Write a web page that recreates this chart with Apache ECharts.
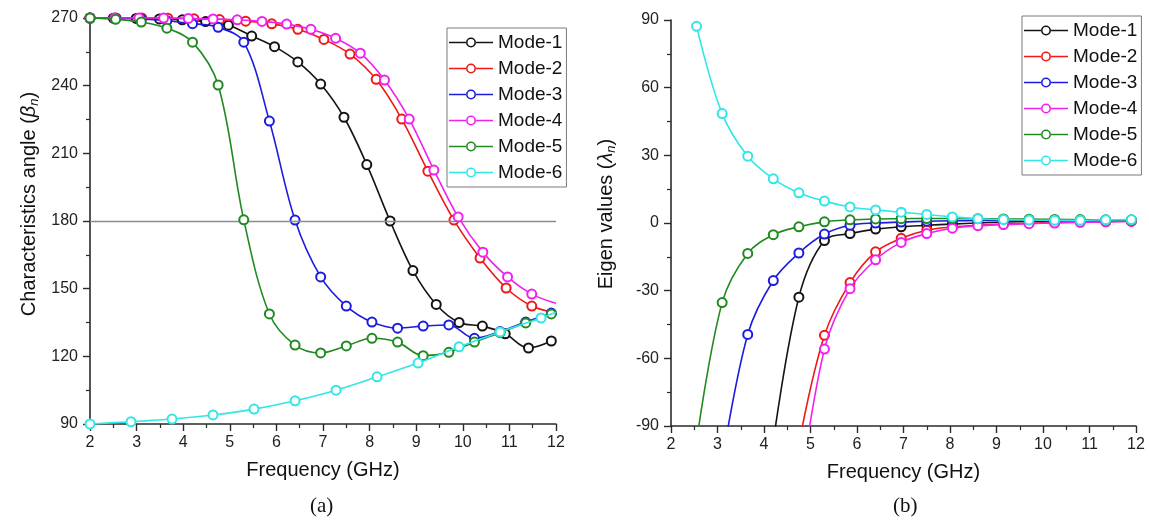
<!DOCTYPE html>
<html>
<head>
<meta charset="utf-8">
<script src="https://cdn.jsdelivr.net/npm/echarts@6/dist/echarts.min.js"></script>
<style>
html,body{margin:0;padding:0;background:#fff;}
#chart{width:1149px;height:529px;}
</style>
</head>
<body>
<div id="chart"></div>
<script>
// ---------- Data: (a) Characteristic angle ----------
var modeNames = ['Mode-1','Mode-2','Mode-3','Mode-4','Mode-5','Mode-6'];
var modeColors = ['#141414','#f01818','#1c1ce0','#f020f0','#208a20','#30e6e6'];

var freqA1 = [2,2.5,2.99,3.49,3.98,4.48,4.97,5.47,5.96,6.46,6.95,7.45,7.94,8.44,8.93,9.43,9.92,10.42,10.91,11.41,11.9];
var angleA1 = [270,269.9,269.8,269.6,269.2,268.4,266.8,262,257.3,250.5,240.7,226,205,180,158,143,135,133.4,130,123.7,126.8];

var freqA2 = [2,2.56,3.11,3.67,4.23,4.78,5.34,5.9,6.46,7.02,7.58,8.14,8.69,9.25,9.81,10.37,10.93,11.48,12];
var angleA2 = [270,270,270,269.9,269.7,269.3,268.6,267.4,265,260.5,254,242.8,225.2,202.1,180.4,163.6,150.3,142.3,139.3];

var freqA3 = [2,2.55,3.1,3.65,4.2,4.75,5.3,5.85,6.4,6.95,7.5,8.05,8.6,9.15,9.7,10.25,10.8,11.35,11.9];
var angleA3 = [270,269.9,269.6,268.8,267.5,265.9,259.3,224.3,180.4,155.2,142.3,135.2,132.5,133.4,133.9,128,131,135.2,139.2];

var freqA4 = [2,2.53,3.05,3.58,4.11,4.64,5.16,5.69,6.22,6.74,7.27,7.8,8.32,8.85,9.38,9.9,10.43,10.96,11.48,12];
var angleA4 = [270,270,270,270,269.8,269.6,269.2,268.5,267.3,265,261,254.4,242.5,225.2,202.6,181.8,166.2,155.2,147.6,143.5];

var freqA5 = [2,2.55,3.1,3.65,4.2,4.75,5.3,5.85,6.4,6.95,7.5,8.05,8.6,9.15,9.7,10.25,10.8,11.35,11.9];
var angleA5 = [270,269.4,268.2,265.5,259.3,240.3,180.5,138.8,125,121.5,124.6,128,126.3,120.3,121.8,126.3,130.5,134.8,138.8];

var freqA6 = [2,2.88,3.76,4.64,5.52,6.4,7.28,8.16,9.04,9.92,10.8,11.68,12];
var angleA6 = [90,91,92.2,94,96.6,100.3,105,110.9,117,124.2,130.8,137,139.5];

var refAngle = 180;

// ---------- Data: (b) Eigen values ----------
var freqB = [2.55,3.1,3.65,4.2,4.75,5.3,5.85,6.4,6.95,7.5,8.05,8.6,9.15,9.7,10.25,10.8,11.35,11.9];
var eigenB1 = [null,null,null,-97,-32.9,-7.8,-4.7,-2.7,-1.7,-1,-0.5,0,0.4,0.7,0.9,1.1,1.2,1.3];
var eigenB2 = [null,null,null,null,-98,-49.8,-26.4,-12.8,-6.8,-3.2,-1.8,-1,-0.5,-0.1,0.2,0.4,0.6,0.8];
var eigenB3 = [null,-106,-49.4,-25.5,-13.3,-4.9,-1,0,0.4,0.8,1,1.1,1.2,1.2,1.2,1.2,1.2,1.2];
var eigenB4 = [null,null,null,null,-122,-55.9,-29.1,-16.3,-8.6,-4.7,-2.3,-1.2,-0.7,-0.3,0,0.3,0.5,0.7];
var eigenB5 = [-97,-35.3,-13.5,-5.2,-1.7,0.5,1.4,1.8,1.9,2,2,1.9,1.8,1.7,1.6,1.5,1.4,1.3];
var eigenB6 = [87.2,48.5,29.6,19.6,13.4,9.7,7.1,5.8,4.8,3.8,2.7,1.9,1.5,1.3,1.2,1.2,1.4,1.5];

var xTicks = [2,3,4,5,6,7,8,9,10,11,12];

// ---------- Build ----------
// points at the right plot edge (x = 12) are curve ends without a marker
function zip(xs, ys){
  var out=[];
  for(var i=0;i<xs.length;i++){
    if (xs[i] === 12) out.push({value:[xs[i], ys[i]], symbol:'none'});
    else out.push([xs[i], ys[i]]);
  }
  return out;
}

var setsA = [zip(freqA1,angleA1),zip(freqA2,angleA2),zip(freqA3,angleA3),zip(freqA4,angleA4),zip(freqA5,angleA5),zip(freqA6,angleA6)];
var setsB = [zip(freqB,eigenB1),zip(freqB,eigenB2),zip(freqB,eigenB3),zip(freqB,eigenB4),zip(freqB,eigenB5),zip(freqB,eigenB6)];

var FONT = 'Liberation Sans, Arial, sans-serif';
var tickFont = {fontFamily:FONT, fontSize:16, color:'#222'};
var axisCol = '#2a2a2a';

function xAxis(gi){
  return {
    type:'value', gridIndex:gi, min:2, max:12, interval:1,
    name:'Frequency (GHz)', nameLocation:'middle', nameGap:36,
    nameTextStyle:{fontFamily:FONT, fontSize:20, color:'#111'},
    axisLine:{show:true, onZero:false, lineStyle:{color:axisCol, width:1.6}},
    axisTick:{show:true, inside:false, length:7, lineStyle:{color:axisCol, width:1.4}},
    minorTick:{show:true, splitNumber:2, length:4, lineStyle:{color:axisCol, width:1.2}},
    axisLabel:Object.assign({margin:11, formatter:function(v){ return xTicks.indexOf(v)>=0 ? String(v) : ''; }}, tickFont),
    splitLine:{show:false}
  };
}
function yAxis(gi, min, max, name, gap, shift){
  return {
    type:'value', gridIndex:gi, min:min, max:max, interval:30,
    name:name, nameLocation:'middle', nameGap:gap, nameRotate:90,
    nameTextStyle:{fontFamily:FONT, fontSize:20, color:'#111', lineHeight:24, padding:[0,0,0,shift],
      rich:{
        i:{fontFamily:FONT, fontSize:20, fontStyle:'italic', color:'#111', lineHeight:24},
        s:{fontFamily:FONT, fontSize:13, fontStyle:'italic', color:'#111', lineHeight:14, verticalAlign:'bottom'}
      }},
    axisLine:{show:true, onZero:false, lineStyle:{color:axisCol, width:1.6}},
    axisTick:{show:true, inside:false, length:7, lineStyle:{color:axisCol, width:1.4}},
    minorTick:{show:true, splitNumber:2, length:4, lineStyle:{color:axisCol, width:1.2}},
    axisLabel:Object.assign({margin:12}, tickFont),
    splitLine:{show:false}
  };
}

var series = [];
for (var k=0;k<6;k++){
  var sA = {
    name:modeNames[k], type:'line', xAxisIndex:0, yAxisIndex:0,
    data:setsA[k], smooth:0.35, clip:false,
    symbol:'emptyCircle', symbolSize:9,
    lineStyle:{color:modeColors[k], width:1.6},
    itemStyle:{color:modeColors[k], borderColor:modeColors[k], borderWidth:1.5},
    z:2+k
  };
  if (k===0){
    sA.markLine = {silent:true, symbol:['none','none'], label:{show:false},
      lineStyle:{color:'#8c8c8c', width:1.3, type:'solid'},
      data:[{yAxis:refAngle}]};
  }
  series.push(sA);
}
for (var k2=0;k2<6;k2++){
  series.push({
    name:modeNames[k2], type:'line', xAxisIndex:1, yAxisIndex:1,
    data:setsB[k2], smooth:0.35, clip:true, connectNulls:false,
    symbol:'emptyCircle', symbolSize:9,
    lineStyle:{color:modeColors[k2], width:1.6},
    itemStyle:{color:modeColors[k2], borderColor:modeColors[k2], borderWidth:1.5},
    z:2+k2
  });
}

// legend glyph: line with an open circle in the middle (44 x 10 box)
var lineCircleIcon = 'path://M0 4.2H17.2V5.8H0Z M26.8 4.2H44V5.8H26.8Z ' +
  'M27 5A5 5 0 1 0 17 5A5 5 0 1 0 27 5Z M25.4 5A3.4 3.4 0 1 1 18.6 5A3.4 3.4 0 1 1 25.4 5Z';

function legendData(){
  return modeNames.map(function(n, i){
    return {name:n, icon:lineCircleIcon,
      itemStyle:{color:modeColors[i], borderWidth:0}};
  });
}

function legend(left, top){
  return {
    orient:'vertical', left:left, top:top, data:legendData(),
    padding:[5,4,5,2], borderColor:'#7a7a7a', borderWidth:1,
    itemWidth:44, itemHeight:10, itemGap:7, itemTextGap:6,
    itemStyle:{borderWidth:0},
    textStyle:{fontFamily:FONT, fontSize:19, lineHeight:19, color:'#111'},
    selectedMode:false
  };
}

var option = {
  animation:false,
  backgroundColor:'#fff',
  grid:[
    {left:90, top:18, width:466, height:406, containLabel:false},
    {left:671, top:20, width:465, height:406, containLabel:false}
  ],
  xAxis:[xAxis(0), xAxis(1)],
  yAxis:[
    yAxis(0, 90, 270, 'Characteristics angle ({i|β}{s|n})', 49, 34),
    yAxis(1, -90, 90, 'Eigen values ({i|λ}{s|n})', 53, 18)
  ],
  legend:[legend(447,28), legend(1022,16)],
  series:series,
  graphic:[
    {type:'text', left:310, top:496, style:{text:'(a)', fontFamily:'Liberation Serif, Times New Roman, serif', fontSize:21, fill:'#111'}},
    {type:'text', left:893, top:496, style:{text:'(b)', fontFamily:'Liberation Serif, Times New Roman, serif', fontSize:21, fill:'#111'}}
  ]
};

var chart = echarts.init(document.getElementById('chart'), null, {renderer:'canvas'});
chart.setOption(option);
</script>
</body>
</html>
